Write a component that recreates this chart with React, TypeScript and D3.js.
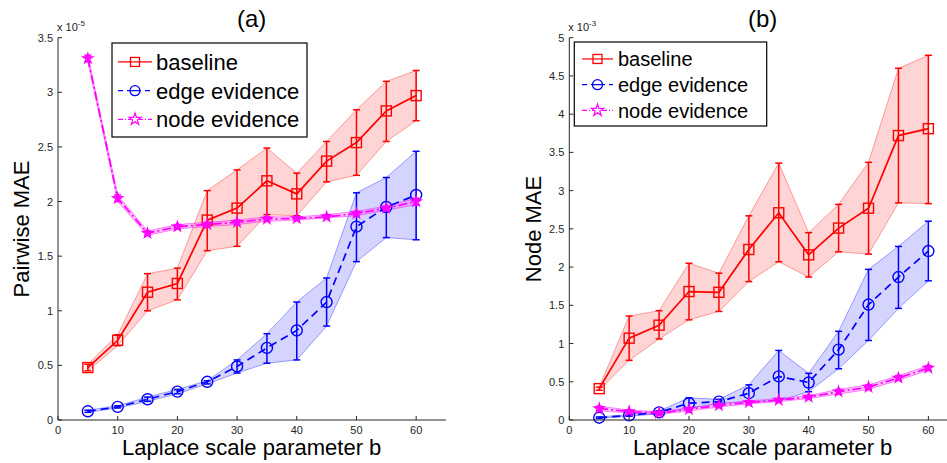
import React, { useEffect, useRef } from 'react';
import * as d3 from 'd3';

// x positions (Laplace scale parameter b)
const bValues = [5, 10, 15, 20, 25, 30, 35, 40, 45, 50, 55, 60];

// panel (a): Pairwise MAE, units of 1e-5
const pwBaseMean = [0.48, 0.73, 1.17, 1.25, 1.83, 1.94, 2.19, 2.07, 2.37, 2.54, 2.83, 2.97];
const pwBaseLo = [0.45, 0.68, 1.0, 1.1, 1.55, 1.59, 1.88, 1.87, 2.18, 2.24, 2.55, 2.74];
const pwBaseHi = [0.51, 0.78, 1.34, 1.39, 2.1, 2.29, 2.49, 2.26, 2.55, 2.84, 3.1, 3.2];
const pwEdgeMean = [0.08, 0.12, 0.19, 0.26, 0.35, 0.49, 0.66, 0.82, 1.08, 1.77, 1.95, 2.06];
const pwEdgeLo = [0.07, 0.11, 0.17, 0.24, 0.33, 0.43, 0.52, 0.55, 0.86, 1.45, 1.67, 1.65];
const pwEdgeHi = [0.09, 0.13, 0.21, 0.28, 0.36, 0.55, 0.79, 1.08, 1.3, 2.08, 2.22, 2.46];
const pwNodeMean = [3.31, 2.03, 1.71, 1.77, 1.79, 1.81, 1.84, 1.845, 1.86, 1.89, 1.94, 2.0];
const pwNodeLo = [3.28, 2.0, 1.69, 1.75, 1.77, 1.79, 1.82, 1.83, 1.85, 1.87, 1.92, 1.97];
const pwNodeHi = [3.34, 2.06, 1.73, 1.79, 1.81, 1.83, 1.86, 1.86, 1.88, 1.91, 1.96, 2.03];

// panel (b): Node MAE, units of 1e-3
const nBaseMean = [0.41, 1.07, 1.24, 1.68, 1.67, 2.23, 2.71, 2.16, 2.51, 2.77, 3.72, 3.81];
const nBaseLo = [0.39, 0.78, 1.06, 1.31, 1.42, 1.81, 2.07, 1.87, 2.2, 2.17, 2.84, 2.83];
const nBaseHi = [0.43, 1.36, 1.43, 2.05, 1.92, 2.67, 3.36, 2.45, 2.82, 3.37, 4.6, 4.77];
const nEdgeMean = [0.03, 0.06, 0.1, 0.22, 0.24, 0.35, 0.57, 0.49, 0.92, 1.51, 1.87, 2.21];
const nEdgeLo = [0.02, 0.05, 0.08, 0.15, 0.22, 0.24, 0.25, 0.37, 0.67, 1.04, 1.46, 1.82];
const nEdgeHi = [0.04, 0.07, 0.12, 0.29, 0.27, 0.46, 0.91, 0.61, 1.16, 1.97, 2.27, 2.6];
const nNodeMean = [0.15, 0.11, 0.09, 0.14, 0.19, 0.23, 0.26, 0.3, 0.37, 0.43, 0.55, 0.68];
const nNodeLo = [0.12, 0.09, 0.07, 0.12, 0.17, 0.21, 0.24, 0.28, 0.34, 0.4, 0.52, 0.65];
const nNodeHi = [0.18, 0.13, 0.11, 0.16, 0.21, 0.25, 0.28, 0.32, 0.4, 0.46, 0.58, 0.71];

const seriesNames = ['baseline', 'edge evidence', 'node evidence'];
const xTicks = [0, 10, 20, 30, 40, 50, 60];
const pwYTicks = [0, 0.5, 1, 1.5, 2, 2.5, 3, 3.5];
const nYTicks = [0, 0.5, 1, 1.5, 2, 2.5, 3, 3.5, 4, 4.5, 5];

const FONT = '"Liberation Sans", Arial, Helvetica, sans-serif';
const AXIS = '#262626';

const styles = [
  { color: '#ff0000', band: 'rgba(255,0,0,0.17)', edge: 'rgba(255,0,0,0.35)', dash: null, marker: 'square' },
  { color: '#0000ff', band: 'rgba(0,0,255,0.17)', edge: 'rgba(0,0,255,0.35)', dash: '8,5', marker: 'circle' },
  { color: '#ff00ff', band: 'rgba(255,0,255,0.22)', edge: 'rgba(255,0,255,0.45)', dash: '9,3,2,3', marker: 'star' },
];

const panels = [
  {
    title: '(a)',
    titleX: 251.7,
    ylabel: 'Pairwise MAE',
    exp: '-5',
    xRange: [58, 446],
    yMax: 3.5,
    yTicks: pwYTicks,
    series: [
      [pwBaseMean, pwBaseLo, pwBaseHi],
      [pwEdgeMean, pwEdgeLo, pwEdgeHi],
      [pwNodeMean, pwNodeLo, pwNodeHi],
    ],
    ylabelX: 29,
    legend: { x: 112, y: 43, w: 195, h: 94, row: 28.7, font: 22, line: [118, 152], text: 156 },
  },
  {
    title: '(b)',
    titleX: 762.7,
    ylabel: 'Node MAE',
    exp: '-3',
    xRange: [569.3, 958.3],
    yMax: 5,
    yTicks: nYTicks,
    series: [
      [nBaseMean, nBaseLo, nBaseHi],
      [nEdgeMean, nEdgeLo, nEdgeHi],
      [nNodeMean, nNodeLo, nNodeHi],
    ],
    ylabelX: 541,
    legend: { x: 574.3, y: 42, w: 192.4, h: 84, row: 25.7, font: 20, line: [582, 613], text: 618 },
  },
];

const drawMarker = (g, kind, cx, cy, color) => {
  if (kind === 'square') {
    g.append('rect')
      .attr('x', cx - 5)
      .attr('y', cy - 5)
      .attr('width', 10)
      .attr('height', 10)
      .attr('fill', 'none')
      .attr('stroke', color)
      .attr('stroke-width', 1.4);
  } else if (kind === 'circle') {
    g.append('circle')
      .attr('cx', cx)
      .attr('cy', cy)
      .attr('r', 5.5)
      .attr('fill', 'none')
      .attr('stroke', color)
      .attr('stroke-width', 1.4);
  } else {
    g.append('path')
      .attr('d', d3.symbol(d3.symbolStar, 32)())
      .attr('transform', `translate(${cx},${cy})`)
      .attr('fill', color)
      .attr('fill-opacity', 0.8)
      .attr('stroke', color)
      .attr('stroke-width', 1.2);
  }
};

const App = () => {
  const ref = useRef(null);

  useEffect(() => {
    document.body.style.margin = '0';
    const svg = d3.select(ref.current);
    svg.selectAll('*').remove();

    panels.forEach((p) => {
      const x = d3.scaleLinear().domain([0, 65]).range(p.xRange);
      const y = d3.scaleLinear().domain([0, p.yMax]).range([420, 37.7]);
      const g = svg.append('g');

      // shaded bands
      p.series.forEach(([mean, lo, hi], i) => {
        const st = styles[i];
        const area = d3
          .area()
          .x((d) => x(d))
          .y0((d, j) => y(lo[j]))
          .y1((d, j) => y(hi[j]));
        g.append('path')
          .attr('d', area(bValues))
          .attr('fill', st.band)
          .attr('stroke', st.edge)
          .attr('stroke-width', 1);
      });

      // lines, error bars, markers
      p.series.forEach(([mean, lo, hi], i) => {
        const st = styles[i];
        const sg = g.append('g');
        bValues.forEach((b, j) => {
          const cx = x(b);
          sg.append('line')
            .attr('x1', cx).attr('x2', cx)
            .attr('y1', y(lo[j])).attr('y2', y(hi[j]))
            .attr('stroke', st.color).attr('stroke-width', 1.5);
          [lo[j], hi[j]].forEach((v) => {
            sg.append('line')
              .attr('x1', cx - 3.5).attr('x2', cx + 3.5)
              .attr('y1', y(v)).attr('y2', y(v))
              .attr('stroke', st.color).attr('stroke-width', 1.5);
          });
        });
        const line = d3.line().x((d) => x(d)).y((d, j) => y(mean[j]));
        sg.append('path')
          .attr('d', line(bValues))
          .attr('fill', 'none')
          .attr('stroke', st.color)
          .attr('stroke-width', 1.7)
          .attr('stroke-dasharray', st.dash);
        bValues.forEach((b, j) => {
          drawMarker(sg, st.marker, x(b), y(mean[j]), st.color);
        });
      });

      // axes (MATLAB style, inward ticks, no box)
      const ax = g.append('g').attr('font-family', FONT).attr('font-size', 11).attr('fill', AXIS);
      ax.append('line')
        .attr('x1', x(0)).attr('x2', x(65))
        .attr('y1', y(0)).attr('y2', y(0))
        .attr('stroke', AXIS).attr('stroke-width', 1);
      ax.append('line')
        .attr('x1', x(0)).attr('x2', x(0))
        .attr('y1', y(0)).attr('y2', y(p.yMax))
        .attr('stroke', AXIS).attr('stroke-width', 1);
      xTicks.forEach((t) => {
        ax.append('line')
          .attr('x1', x(t)).attr('x2', x(t))
          .attr('y1', y(0)).attr('y2', y(0) - 4)
          .attr('stroke', AXIS);
        ax.append('text')
          .attr('x', x(t)).attr('y', 434)
          .attr('text-anchor', 'middle')
          .text(t);
      });
      p.yTicks.forEach((t) => {
        ax.append('line')
          .attr('x1', x(0)).attr('x2', x(0) + 4)
          .attr('y1', y(t)).attr('y2', y(t))
          .attr('stroke', AXIS);
        ax.append('text')
          .attr('x', x(0) - 5).attr('y', y(t) + 4)
          .attr('text-anchor', 'end')
          .text(t);
      });
      const mult = ax.append('text').attr('x', x(0) - 1).attr('y', 31);
      mult.append('tspan').text('x 10');
      mult.append('tspan').attr('dy', -5).attr('font-size', 8).text(p.exp);

      // labels
      g.append('text')
        .attr('x', p.titleX)
        .attr('y', 27)
        .attr('text-anchor', 'middle')
        .attr('font-family', FONT)
        .attr('font-size', 24)
        .text(p.title);
      g.append('text')
        .attr('x', p.titleX)
        .attr('y', 455)
        .attr('text-anchor', 'middle')
        .attr('font-family', FONT)
        .attr('font-size', 22)
        .text('Laplace scale parameter b');
      g.append('text')
        .attr('transform', `translate(${p.ylabelX}, 229) rotate(-90)`)
        .attr('text-anchor', 'middle')
        .attr('font-family', FONT)
        .attr('font-size', 22)
        .text(p.ylabel);

      // legend
      const L = p.legend;
      const lg = g.append('g');
      lg.append('rect')
        .attr('x', L.x).attr('y', L.y)
        .attr('width', L.w).attr('height', L.h)
        .attr('fill', '#fff').attr('stroke', '#000').attr('stroke-width', 1.2);
      seriesNames.forEach((name, i) => {
        const st = styles[i];
        const ry = L.y + L.row * 0.66 + i * L.row;
        lg.append('line')
          .attr('x1', L.line[0]).attr('x2', L.line[1])
          .attr('y1', ry).attr('y2', ry)
          .attr('stroke', st.color).attr('stroke-width', 1.2)
          .attr('stroke-dasharray', st.dash ? (i === 1 ? '5,4' : '5,2,1,2') : null);
        const mx = (L.line[0] + L.line[1]) / 2;
        if (st.marker === 'star') {
          lg.append('path')
            .attr('d', d3.symbol(d3.symbolStar, 45)())
            .attr('transform', `translate(${mx},${ry})`)
            .attr('fill', '#fff').attr('stroke', st.color).attr('stroke-width', 1.2);
        } else if (st.marker === 'circle') {
          lg.append('circle').attr('cx', mx).attr('cy', ry).attr('r', 5)
            .attr('fill', '#fff').attr('stroke', st.color).attr('stroke-width', 1.3);
          lg.append('line').attr('x1', mx - 5).attr('x2', mx + 5).attr('y1', ry).attr('y2', ry)
            .attr('stroke', st.color).attr('stroke-width', 1.2);
        } else {
          lg.append('rect').attr('x', mx - 4.5).attr('y', ry - 4.5).attr('width', 9).attr('height', 9)
            .attr('fill', '#fff').attr('stroke', st.color).attr('stroke-width', 1.3);
          lg.append('line').attr('x1', mx - 4.5).attr('x2', mx + 4.5).attr('y1', ry).attr('y2', ry)
            .attr('stroke', st.color).attr('stroke-width', 1.2);
        }
        lg.append('text')
          .attr('x', L.text).attr('y', ry + L.font * 0.36)
          .attr('font-family', FONT).attr('font-size', L.font)
          .text(name);
      });
    });
  }, []);

  return <svg ref={ref} width={947} height={463} style={{ display: 'block', background: '#fff' }} />;
};

export default App;
